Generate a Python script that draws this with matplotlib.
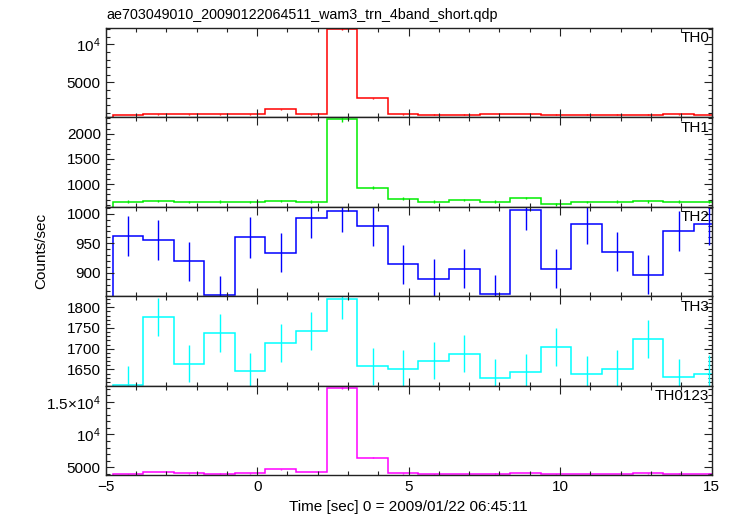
import numpy as np
import matplotlib
matplotlib.use('Agg')
import matplotlib.pyplot as plt
from matplotlib.ticker import MultipleLocator

plt.rcParams['font.family'] = ['Liberation Sans', 'DejaVu Sans']
plt.rcParams['mathtext.fontset'] = 'custom'
plt.rcParams['mathtext.rm'] = 'Liberation Sans'

title = 'ae703049010_20090122064511_wam3_trn_4band_short.qdp'

# bin centres (sec) and half width
t_center = [-4.27, -3.26, -2.25, -1.24, -0.23, 0.78, 1.79, 2.80, 3.81, 4.82,
            5.83, 6.84, 7.85, 8.86, 9.87, 10.88, 11.89, 12.90, 13.91, 14.92]
half_w = 0.505

th0 = [720, 790, 785, 790, 795, 1470, 790, 11980, 2930, 790,
       770, 770, 860, 820, 760, 780, 775, 780, 785, 780]
th0_err = [27, 28, 28, 28, 28, 38, 28, 110, 54, 28,
           28, 28, 29, 29, 28, 28, 28, 28, 28, 28]

th1 = [658, 671, 652, 658, 652, 671, 658, 2280, 935, 716,
       658, 690, 658, 729, 607, 652, 658, 665, 658, 658]
th1_err = [26, 26, 26, 26, 26, 26, 26, 48, 31, 27,
           26, 26, 26, 27, 25, 26, 26, 26, 26, 26]

th2 = [962, 956, 920, 863, 960, 934, 993, 1004, 979, 915,
       890, 907, 865, 1007, 907, 983, 936, 897, 971, 982]
th2_err = [34, 34, 33, 32, 34, 33, 34, 35, 34, 33,
           33, 33, 32, 35, 33, 34, 33, 33, 34, 34]

th3 = [1613, 1776, 1664, 1737, 1645, 1714, 1743, 1819, 1657, 1652,
       1671, 1688, 1630, 1644, 1704, 1639, 1651, 1724, 1632, 1640]
th3_err = [44, 46, 45, 46, 44, 45, 46, 47, 45, 45,
           45, 45, 44, 44, 45, 44, 45, 46, 44, 44]

th0123 = [3900, 4250, 4050, 4000, 4050, 4700, 4250, 17080, 6450, 4050,
          3900, 3950, 4000, 4100, 3900, 3950, 3950, 4050, 4000, 4000]
th0123_err = [65, 68, 66, 66, 66, 72, 68, 137, 84, 66,
              65, 66, 66, 67, 65, 66, 66, 66, 66, 66]

names = ['TH0', 'TH1', 'TH2', 'TH3', 'TH0123']
colors = ['#ff0000', '#00ee00', '#0000ff', '#00ffff', '#ff00ff']
series = [th0, th1, th2, th3, th0123]
errors = [th0_err, th1_err, th2_err, th3_err, th0123_err]
ylims = [(434, 12190), (560, 2325), (861, 1012), (1611, 1827), (3790, 17510)]
yticks = [[5000, 10000], [1000, 1500, 2000], [900, 950, 1000],
          [1650, 1700, 1750, 1800], [5000, 10000, 15000]]
ytick_labels = [['5000', r'$\mathregular{10^4}$'],
                ['1000', '1500', '2000'],
                ['900', '950', '1000'],
                ['1650', '1700', '1750', '1800'],
                ['5000', r'$\mathregular{10^4}$', r'$\mathregular{1.5{\times}10^4}$']]
yminor = [1000, 100, 10, 10, 1000]

tc = np.array(t_center)
edges = np.append(tc - half_w, tc[-1] + half_w)

fig, axes = plt.subplots(5, 1, sharex=True, figsize=(7.33, 5.16), dpi=100)
fig.subplots_adjust(left=0.1442, right=0.9707, top=0.9463, bottom=0.0795, hspace=0)

for i, ax in enumerate(axes):
    c = colors[i]
    ax.stairs(series[i], edges, color=c, linewidth=1.1)
    ax.errorbar(tc, series[i], yerr=errors[i], fmt='none', ecolor=c,
                elinewidth=1, capsize=0)
    ax.set_xlim(-5, 15)
    ax.set_ylim(*ylims[i])
    ax.set_yticks(yticks[i])
    ax.set_yticklabels(ytick_labels[i])
    ax.yaxis.set_minor_locator(MultipleLocator(yminor[i]))
    ax.xaxis.set_major_locator(MultipleLocator(5))
    ax.xaxis.set_minor_locator(MultipleLocator(1))
    ax.tick_params(which='both', direction='in', top=True, right=True,
                   labelsize=11, width=0.8, color='#222222')
    ax.tick_params(which='major', length=5.5)
    ax.tick_params(which='minor', length=2.8)
    for sp in ax.spines.values():
        sp.set_linewidth(1.0)
        sp.set_color('#222222')
    ax.text(0.996, 0.88, names[i], transform=ax.transAxes, ha='right',
            va='center', fontsize=11)

axes[-1].xaxis.set_major_formatter(plt.FuncFormatter(
    lambda v, p: ('%d' % v).replace('-', '\u2212')))

fig.text(106 / 733, 1 - 18.5 / 516, title, fontsize=10.3, ha='left', va='baseline')
fig.text(41 / 733, 1 - 251 / 516, 'Counts/sec', rotation=90, fontsize=11,
         ha='center', va='center')
fig.text(408.6 / 733, 1 - 507 / 516, 'Time [sec] 0 = 2009/01/22 06:45:11',
         fontsize=11, ha='center', va='center')

fig.savefig('out.png', dpi=100)
